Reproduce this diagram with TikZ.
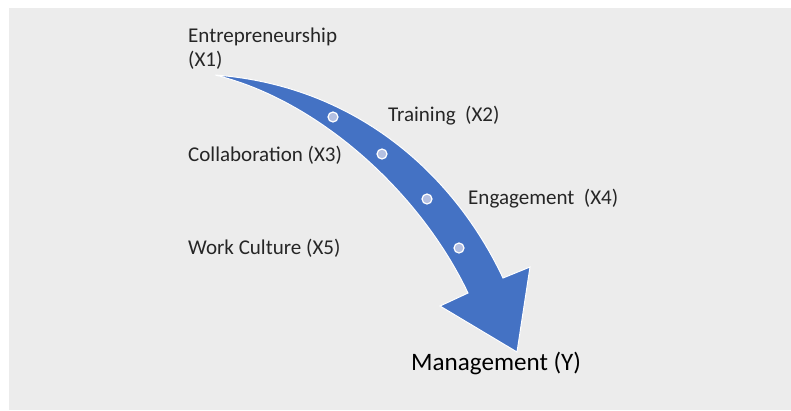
\documentclass[tikz,border=0pt]{standalone}
\usepackage{fontspec}
\setmainfont{Carlito}
\definecolor{bggray}{HTML}{ECECEC}
\definecolor{arrowblue}{HTML}{4472C4}
\definecolor{dotfill}{HTML}{B4C0E2}
\definecolor{labeltext}{HTML}{262626}
\begin{document}
\begin{tikzpicture}[x=1bp,y=-1bp,
  factor/.style={anchor=west,inner sep=0pt,text=labeltext,font=\fontsize{21.1}{24}\selectfont},
  outcome/.style={anchor=west,inner sep=0pt,text=black,font=\fontsize{25.2}{30}\selectfont},
  bead/.style={circle,minimum size=10bp,inner sep=0pt,fill=dotfill,draw=white,line width=1.2bp}]
\useasboundingbox (0,0) rectangle (791,410);
\fill[white] (0,0) rectangle (791,410);
\fill[bggray] (9,8) rectangle (791,410);

% curved tapering arrow
\coordinate (tail) at (215,75);
\coordinate (oshaft) at (503,278);
\coordinate (obarb) at (530,267);
\coordinate (tip) at (517,352);
\coordinate (ibarb) at (440,306);
\coordinate (ishaft) at (468,293);
\fill[arrowblue,draw=white,line width=1bp,line join=miter]
  (tail) .. controls (352,85) and (452,170) .. (oshaft)
  -- (obarb) -- (tip) -- (ibarb) -- (ishaft)
  .. controls (420,192) and (318,100) .. (tail) -- cycle;

% beads along the arrow
\node[bead] (b1) at (333,117) {};
\node[bead] (b2) at (382,154) {};
\node[bead] (b3) at (427,199) {};
\node[bead] (b4) at (459,248) {};

% labels
\node[factor,align=left] (x1) at (188,49) {Entrepreneurship\\(X1)};
\node[factor] (x2) at (388,116) {Training\ \ (X2)};
\node[factor] (x3) at (188,155) {Collaboration (X3)};
\node[factor] (x4) at (468,199) {Engagement\ \ (X4)};
\node[factor] (x5) at (188,248) {Work Culture (X5)};
\node[outcome] (y) at (411,363) {Management (Y)};
\end{tikzpicture}
\end{document}
